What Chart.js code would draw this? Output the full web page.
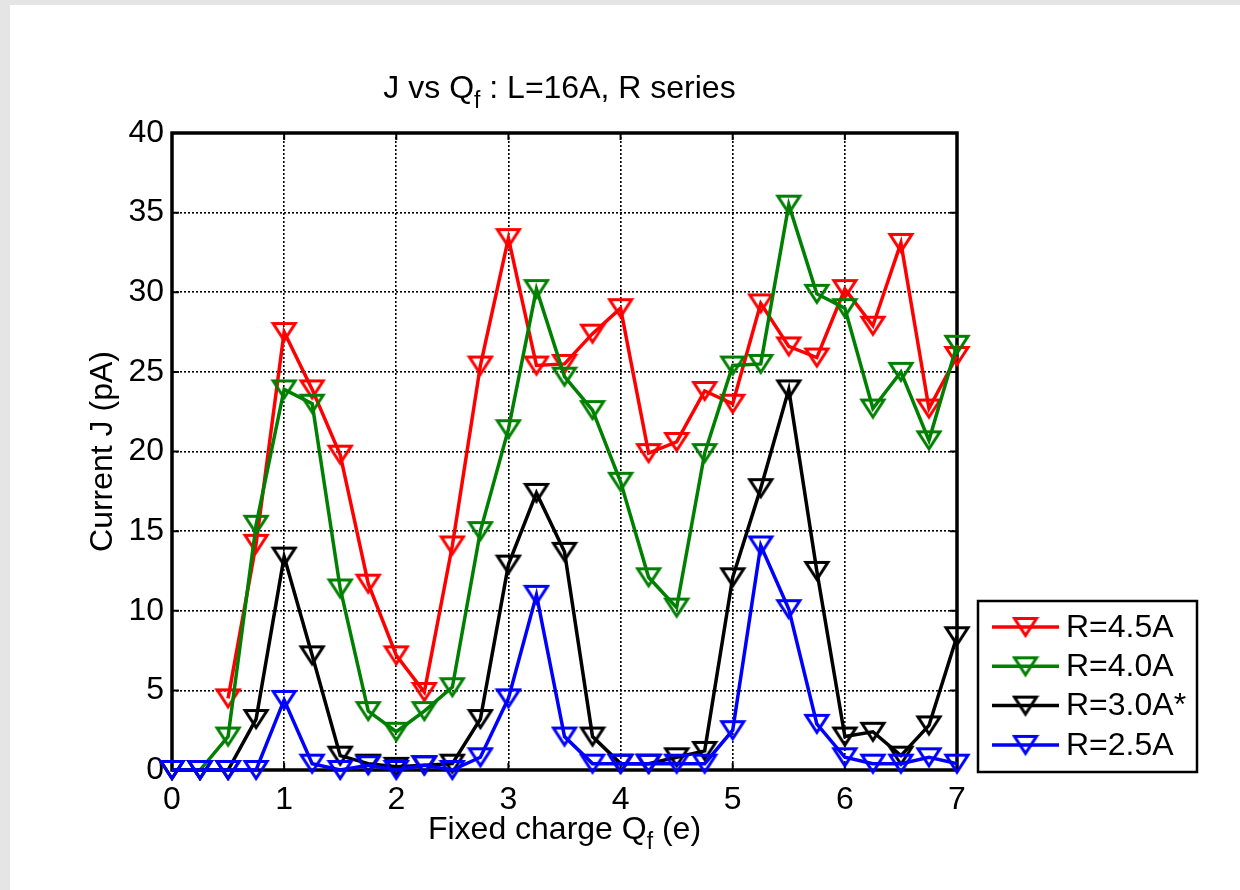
<!DOCTYPE html>
<html>
<head>
<meta charset="utf-8">
<script src="https://cdn.jsdelivr.net/npm/chart.js@4.4.1/dist/chart.umd.min.js"></script>
<style>
  html, body { margin: 0; padding: 0; background: #e5e5e5; }
  body { width: 1240px; height: 890px; overflow: hidden; position: relative; }
  #wrap { position: absolute; left: 10px; top: 5px; width: 1230px; height: 885px; background: #fff; }
</style>
</head>
<body>
<div id="wrap"><canvas id="jChart" width="1230" height="885"></canvas></div>
<script>
// Fixed charge Qf (e)
const qf = [0, 0.25, 0.5, 0.75, 1, 1.25, 1.5, 1.75, 2, 2.25, 2.5, 2.75, 3, 3.25, 3.5,
            3.75, 4, 4.25, 4.5, 4.75, 5, 5.25, 5.5, 5.75, 6, 6.25, 6.5, 6.75, 7];

// Current J (pA) per R
const jR45 = [null, null, 4.5, 14.2, 27.5, 23.9, 19.8, 11.7, 7.2, 4.9, 14.1, 25.4, 33.4, 25.4, 25.5,
              27.4, 29.0, 19.9, 20.6, 23.8, 23.0, 29.3, 26.6, 25.9, 30.2, 27.9, 33.1, 22.7, 26.0];
const jR40 = [0, 0, 2.1, 15.4, 23.9, 23.0, 11.4, 3.7, 2.4, 3.7, 5.2, 15.0, 21.4, 30.2, 24.7,
              22.6, 18.1, 12.1, 10.2, 19.9, 25.4, 25.5, 35.5, 29.9, 29.0, 22.7, 25.0, 20.7, 26.7];
const jR30 = [0, 0, 0, 3.2, 13.4, 7.2, 0.9, 0.4, 0.2, 0.3, 0.4, 3.2, 12.9, 17.4, 13.7,
              2.1, 0.4, 0.4, 0.8, 1.2, 12.1, 17.7, 23.9, 12.5, 2.1, 2.4, 0.9, 2.8, 8.4];
const jR25 = [0, 0, 0, 0, 4.4, 0.4, 0, 0.3, 0, 0.3, 0, 0.8, 4.5, 11.0, 2.1,
              0.4, 0.4, 0.4, 0.4, 0.4, 2.5, 14.1, 10.1, 2.9, 0.8, 0.4, 0.4, 0.8, 0.4];

const seriesLabels = ['R=4.5A', 'R=4.0A', 'R=3.0A*', 'R=2.5A'];
const seriesColors = ['#ff0000', '#008000', '#000000', '#0000ff'];
const seriesData = [jR45, jR40, jR30, jR25];

const yTicks = [0, 5, 10, 15, 20, 25, 30, 35, 40];
const xTicks = [0, 1, 2, 3, 4, 5, 6, 7];

const FONT = "'Liberation Sans', Arial, Helvetica, sans-serif";
const FS = 32;

// hollow down-triangle like matlab 'v'
function makeMarker(color) {
    const c = document.createElement('canvas');
    c.width = 28;
    c.height = 24;
    const g = c.getContext('2d');
    g.strokeStyle = color;
    g.lineWidth = 3;
    g.lineJoin = 'miter';
    g.beginPath();
    g.moveTo(3, 3.5);
    g.lineTo(25, 3.5);
    g.lineTo(14, 20.5);
    g.closePath();
    g.stroke();
    return c;
}

const markers = seriesColors.map(makeMarker);

// text with subscript pieces: [[text, isSub], ...]
function drawSubText(ctx, parts, cx, cy, size) {
    const subSize = Math.round(size * 0.72);
    let total = 0;
    parts.forEach(([t, sub]) => {
        ctx.font = (sub ? subSize : size) + 'px ' + FONT;
        total += ctx.measureText(t).width;
    });
    let x = cx - total / 2;
    ctx.textAlign = 'left';
    ctx.textBaseline = 'middle';
    parts.forEach(([t, sub]) => {
        ctx.font = (sub ? subSize : size) + 'px ' + FONT;
        ctx.fillText(t, x, sub ? cy + size * 0.4 : cy);
        x += ctx.measureText(t).width;
    });
}

const matlabAxes = {
    id: 'matlabAxes',
    beforeDatasetsDraw(chart) {
        const { ctx, chartArea: a, scales: { x, y } } = chart;
        ctx.save();
        ctx.strokeStyle = '#000';
        ctx.lineWidth = 2;
        ctx.beginPath();
        x.ticks.forEach(t => {
            const px = x.getPixelForValue(t.value);
            ctx.moveTo(px, a.bottom); ctx.lineTo(px, a.bottom - 7);
            ctx.moveTo(px, a.top); ctx.lineTo(px, a.top + 7);
        });
        y.ticks.forEach(t => {
            const py = y.getPixelForValue(t.value);
            ctx.moveTo(a.left, py); ctx.lineTo(a.left + 7, py);
            ctx.moveTo(a.right, py); ctx.lineTo(a.right - 7, py);
        });
        ctx.stroke();
        ctx.lineWidth = 3.5;
        ctx.strokeRect(a.left, a.top, a.right - a.left, a.bottom - a.top);
        ctx.restore();
    },
    afterDraw(chart) {
        const { ctx, chartArea: a } = chart;
        ctx.save();
        ctx.fillStyle = '#000';

        // title
        drawSubText(ctx, [['J vs Q', false], ['f', true], [' : L=16A, R series', false]],
            (a.left + a.right) / 2 - 5, 84, FS);
        // x label
        drawSubText(ctx, [['Fixed charge Q', false], ['f', true], [' (e)', false]],
            (a.left + a.right) / 2, 825, FS);
        // y label
        ctx.save();
        ctx.translate(93, (a.top + a.bottom) / 2);
        ctx.rotate(-Math.PI / 2);
        drawSubText(ctx, [['Current J (pA)', false]], 0, 0, FS);
        ctx.restore();

        // legend box
        const bx = 968, by = 596, bw = 219, bh = 171;
        ctx.fillStyle = '#fff';
        ctx.fillRect(bx, by, bw, bh);
        ctx.strokeStyle = '#000';
        ctx.lineWidth = 2.5;
        ctx.strokeRect(bx, by, bw, bh);

        chart.data.datasets.forEach((ds, i) => {
            const ly = 622 + i * 39.3;
            ctx.strokeStyle = ds.borderColor;
            ctx.lineWidth = 3.5;
            ctx.beginPath();
            ctx.moveTo(982, ly);
            ctx.lineTo(1049, ly);
            ctx.stroke();
            ctx.drawImage(markers[i], 1015.5 - 14, ly - 12);
            ctx.fillStyle = '#000';
            ctx.font = FS + 'px ' + FONT;
            ctx.textAlign = 'left';
            ctx.textBaseline = 'middle';
            ctx.fillText(ds.label, 1056, ly + 1);
        });
        ctx.restore();
    }
};

const datasets = seriesData.map((vals, i) => ({
    label: seriesLabels[i],
    data: qf.map((q, k) => ({ x: q, y: vals[k] })),
    borderColor: seriesColors[i],
    backgroundColor: 'transparent',
    borderWidth: 3.5,
    pointStyle: markers[i],
    pointRadius: 10,
    tension: 0,
    spanGaps: false,
    clip: false,
    order: 3 - i
}));

const ctx = document.getElementById('jChart').getContext('2d');
const chart = new Chart(ctx, {
    type: 'line',
    data: { datasets },
    plugins: [matlabAxes],
    options: {
        responsive: false,
        animation: false,
        layout: { padding: { left: 0, top: 128, right: 283, bottom: 0 } },
        plugins: {
            legend: { display: false },
            title: { display: false },
            tooltip: { enabled: false }
        },
        scales: {
            x: {
                type: 'linear',
                min: 0,
                max: 7,
                afterBuildTicks: axis => { axis.ticks = xTicks.map(v => ({ value: v })); },
                afterFit: axis => { axis.height = 120; },
                grid: { color: '#000', lineWidth: 1.6, drawTicks: false },
                border: { display: false, dash: [2, 2] },
                ticks: { color: '#000', padding: 11, maxRotation: 0, font: { family: FONT, size: FS } }
            },
            y: {
                type: 'linear',
                min: 0,
                max: 40,
                afterBuildTicks: axis => { axis.ticks = yTicks.map(v => ({ value: v })); },
                afterFit: axis => { axis.width = 162; },
                grid: { color: '#000', lineWidth: 1.6, drawTicks: false },
                border: { display: false, dash: [2, 2] },
                ticks: { color: '#000', padding: 8, font: { family: FONT, size: FS } }
            }
        }
    }
});
</script>
</body>
</html>
